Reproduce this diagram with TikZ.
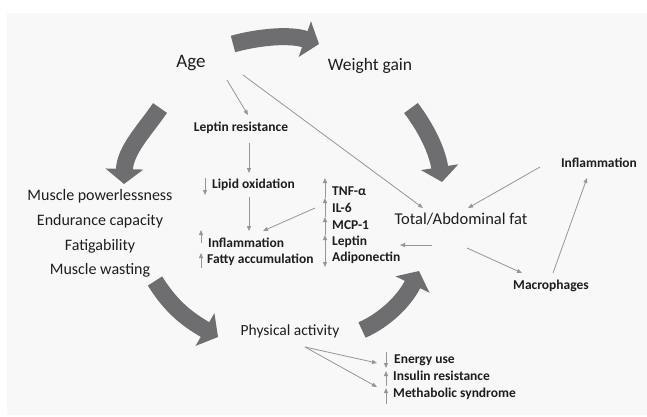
\documentclass[tikz,border=0pt]{standalone}
\usepackage{fontspec}
\setmainfont{Carlito}
\usetikzlibrary{arrows.meta}
\definecolor{panel}{RGB}{248,248,248}
\definecolor{bigarrow}{RGB}{110,110,112}
\definecolor{thinarrow}{RGB}{150,150,152}
\definecolor{txt}{RGB}{30,30,30}
\tikzset{
  bold/.style={inner sep=0pt, text=txt, font=\fontsize{13.5}{15}\selectfont\bfseries, text height=0.7em, text depth=0.2em},
  regl/.style={inner sep=0pt, text=txt, font=\fontsize{16}{18}\selectfont, text height=0.7em, text depth=0.2em},
  thinarr/.style={draw=thinarrow, line width=0.8pt, -{Triangle[length=5pt,width=4pt]}},
  bigarr/.style={draw=bigarrow, line width=17pt, -{Triangle[length=15pt,width=37pt]}},
}
\begin{document}
\begin{tikzpicture}[x=1pt,y=-1pt]
\useasboundingbox (0,0) rectangle (647,416);
\fill[panel] (7,13) rectangle (647,415);

% main text nodes
\node[regl, font=\fontsize{19}{21}\selectfont] (age) at (191,65) {Age};
\node[regl, font=\fontsize{17.5}{20}\selectfont] (weight) at (370,68) {Weight gain};
\node[regl] (mp) at (100,198) {Muscle powerlessness};
\node[regl] (ec) at (100,223) {Endurance capacity};
\node[regl] (fat) at (100,248) {Fatigability};
\node[regl] (mw) at (100,272) {Muscle wasting};
\node[regl, font=\fontsize{16.5}{19}\selectfont] (total) at (461,222) {Total/Abdominal fat};
\node[regl, font=\fontsize{15.5}{18}\selectfont] (phys) at (290,333) {Physical activity};

\node[bold] (leptres) at (241,129) {Leptin resistance};
\node[bold, anchor=west] (lipid) at (212,186) {Lipid oxidation};
\node[bold, anchor=west] (inflL) at (208,245) {Inflammation};
\node[bold, anchor=west] (fatty) at (207,261) {Fatty accumulation};
\node[bold, anchor=west] (tnf) at (332,193) {TNF-α};
\node[bold, anchor=west] (il6) at (332,210) {IL-6};
\node[bold, anchor=west] (mcp) at (332,227) {MCP-1};
\node[bold, anchor=west] (leptin) at (332,243) {Leptin};
\node[bold, anchor=west] (adipo) at (332,259) {Adiponectin};
\node[bold] (inflR) at (599,165) {Inflammation};
\node[bold] (macro) at (551,287) {Macrophages};
\node[bold, anchor=west] (energy) at (394,361) {Energy use};
\node[bold, anchor=west] (insulin) at (393,378) {Insulin resistance};
\node[bold, anchor=west] (meta) at (393,395) {Methabolic syndrome};

% big curved arrows
\coordinate (b1s) at (233,44);  \coordinate (b1e) at (319,44);
\coordinate (b2s) at (160,108); \coordinate (b2e) at (124,184);
\coordinate (b3s) at (411,108); \coordinate (b3e) at (442,182);
\coordinate (b4s) at (155,281); \coordinate (b4e) at (218,337);
\coordinate (b5s) at (362,330); \coordinate (b5e) at (419,271);
\draw[bigarr] (b1s) .. controls (258,37) and (290,34) .. (b1e);
\draw[bigarr] (b2s) .. controls (145,130) and (125,150) .. (b2e);
\draw[bigarr] (b3s) .. controls (426,128) and (437,150) .. (b3e);
\draw[bigarr] (b4s) .. controls (170,305) and (185,318) .. (b4e);
\draw[bigarr] (b5s) .. controls (385,320) and (405,300) .. (b5e);

% thin connectors
\coordinate (ageA) at (227,80);   \coordinate (leptT) at (248,115);
\coordinate (ageB) at (243,75);   \coordinate (totT) at (423,208);
\coordinate (leptB) at (249,143); \coordinate (lipT) at (249,173);
\coordinate (lipB) at (249,197);  \coordinate (inflT) at (249,231);
\coordinate (cytL) at (315,208);  \coordinate (inflTR) at (263,231);
\coordinate (totL) at (432,245);  \coordinate (cytR) at (400,245);
\coordinate (inflRL) at (540,167); \coordinate (totR) at (468,208);
\coordinate (totBR) at (467,248); \coordinate (macT) at (522,273);
\coordinate (macTR) at (553,273); \coordinate (inflRB) at (587,178);
\coordinate (physR) at (305,347); \coordinate (enL) at (377,363); \coordinate (inL) at (377,387);
\draw[thinarr] (ageA) -- (leptT);
\draw[thinarr] (ageB) -- (totT);
\draw[thinarr] (leptB) -- (lipT);
\draw[thinarr] (lipB) -- (inflT);
\draw[thinarr] (cytL) -- (inflTR);
\draw[thinarr] (totL) -- (cytR);
\draw[thinarr] (inflRL) -- (totR);
\draw[thinarr] (totBR) -- (macT);
\draw[thinarr] (macTR) -- (inflRB);
\draw[thinarr] (physR) -- (enL);
\draw[thinarr] (physR) -- (inL);

% up/down indicator arrows
\coordinate (lpa) at (205,178); \coordinate (lpb) at (205,195);
\draw[thinarr] (lpa) -- (lpb);
\coordinate (ia) at (201,243); \coordinate (ib) at (201,230);
\coordinate (fa) at (201,268); \coordinate (fb) at (201,253);
\draw[thinarr] (ia) -- (ib);
\draw[thinarr] (fa) -- (fb);
\coordinate (c0) at (325,178); \coordinate (c1) at (325,198); \coordinate (c2) at (325,217);
\coordinate (c3) at (325,235); \coordinate (c4) at (325,251); \coordinate (c5) at (325,267);
\draw[thinarr] (c1) -- (c0);
\draw[thinarr] (c2) -- (c1);
\draw[thinarr] (c3) -- (c2);
\draw[thinarr] (c4) -- (c3);
\draw[thinarr] (c4) -- (c5);
\coordinate (e0) at (386,352); \coordinate (e1) at (386,368); \coordinate (e2) at (386,371);
\coordinate (e3) at (386,386); \coordinate (e4) at (386,388); \coordinate (e5) at (386,404);
\draw[thinarr] (e0) -- (e1);
\draw[thinarr] (e3) -- (e2);
\draw[thinarr] (e5) -- (e4);
\end{tikzpicture}
\end{document}
